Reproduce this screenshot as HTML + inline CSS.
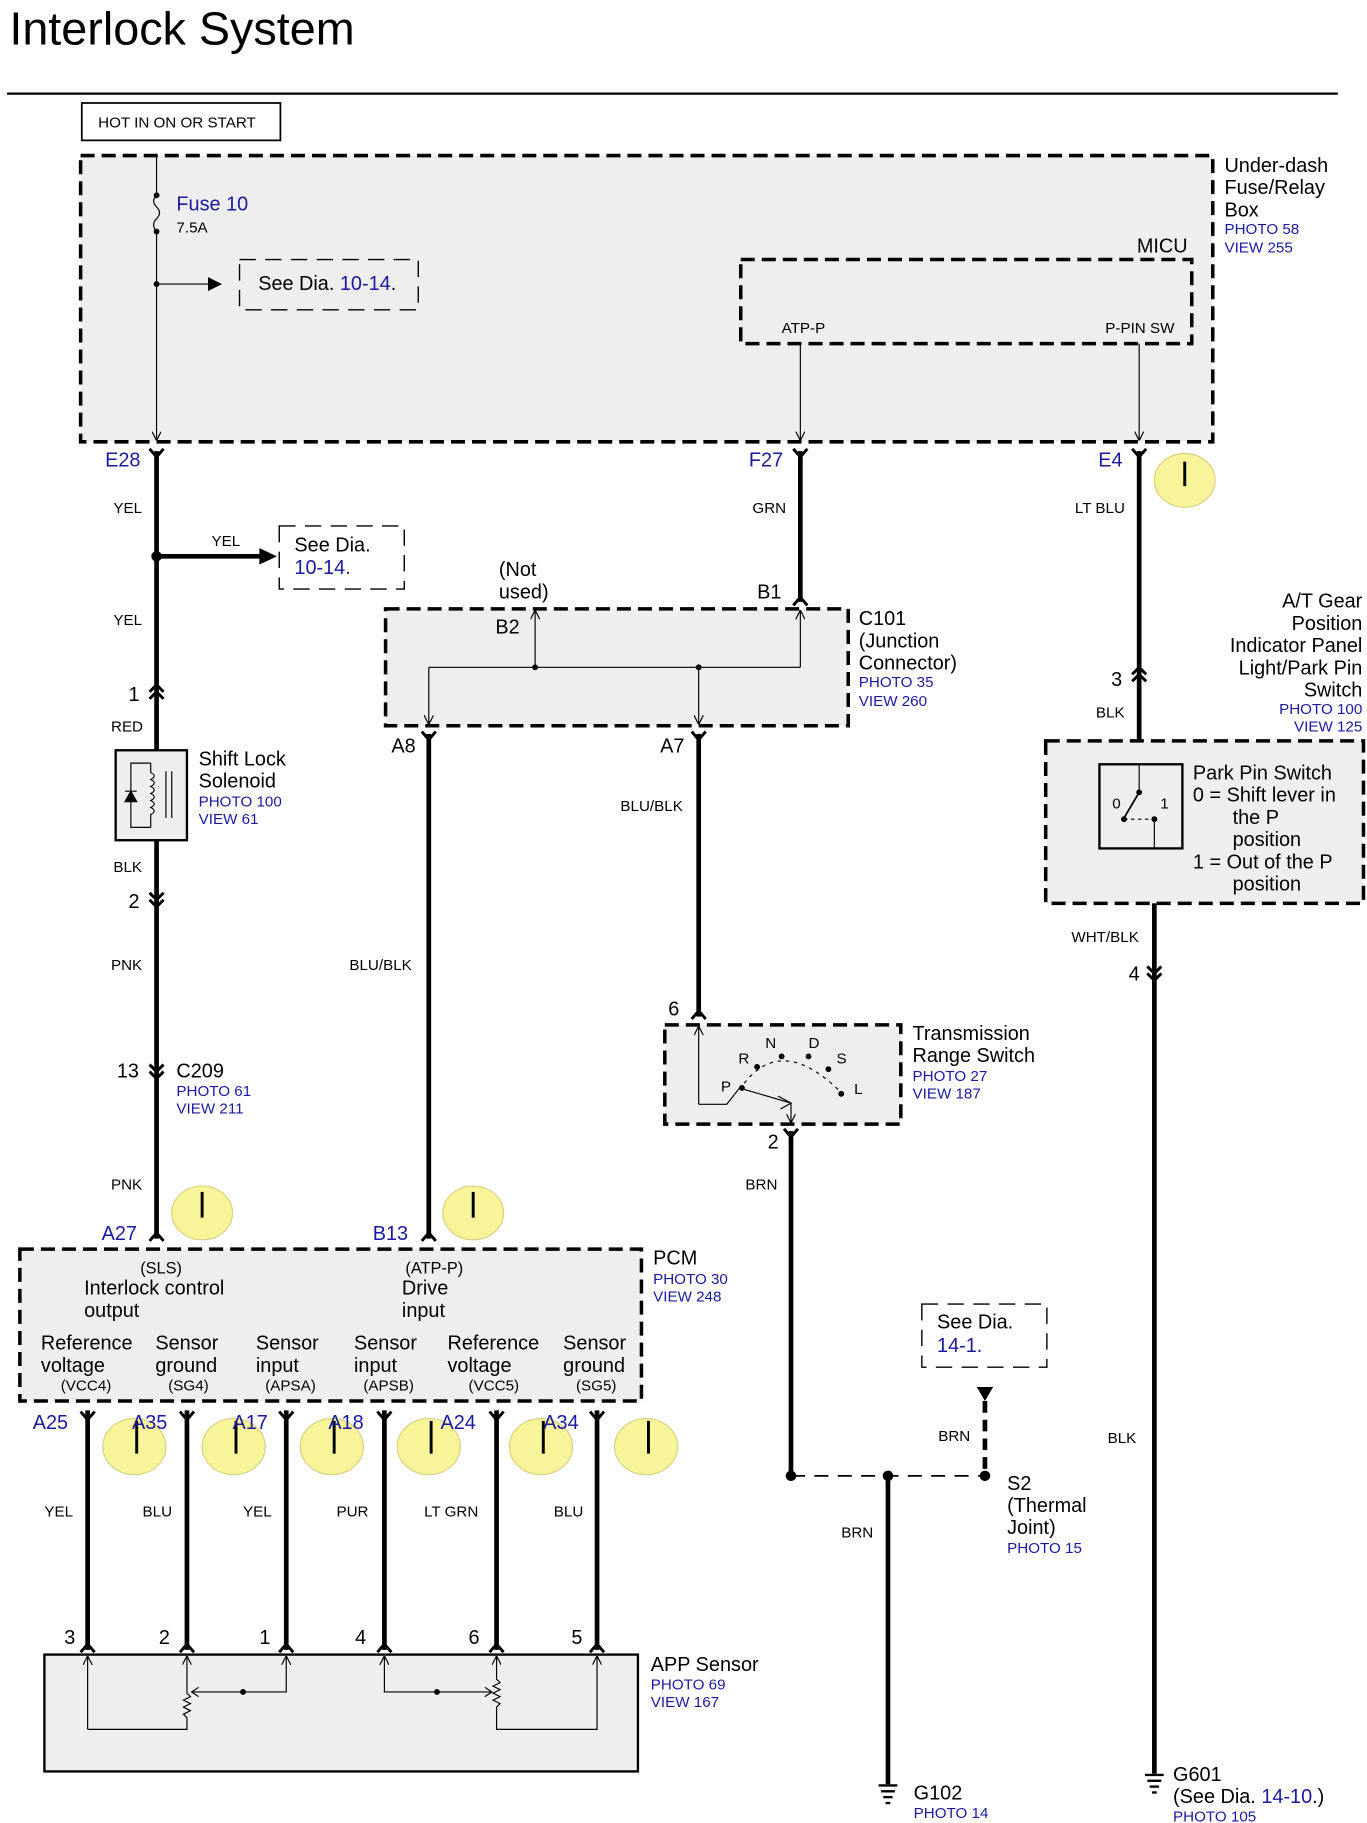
<!DOCTYPE html>
<html><head><meta charset="utf-8"><style>
html,body{margin:0;padding:0;background:#fff}
svg{display:block}
text{font-family:"Liberation Sans",Arial,sans-serif;fill:#000}
.b,.b text{fill:#1a1aa0}
.s13{font-size:13px}.s14{font-size:14px}.s17{font-size:17px}
</style></head><body>
<svg width="1367" height="1823" viewBox="0 0 1170 1560" xmlns="http://www.w3.org/2000/svg">
<defs>
<marker id="ar" markerWidth="8" markerHeight="8" refX="7" refY="4" orient="auto" markerUnits="userSpaceOnUse"><path d="M0,0 L8,4 L0,8" fill="none" stroke="#000" stroke-width="1"/></marker>
<marker id="af" markerWidth="12" markerHeight="12" refX="10" refY="6" orient="auto" markerUnits="userSpaceOnUse"><path d="M0,0 L12,6 L0,12 z" fill="#000"/></marker>
</defs>
<text x="8" y="38" style="font-size:40px">Interlock System</text>
<line x1="6" y1="80" x2="1145" y2="80" stroke="#000" stroke-width="2"/>
<rect x="70" y="88" width="170" height="32" fill="#fff" stroke="#000" stroke-width="1.5"/>
<text x="84" y="109" class="s13">HOT IN ON OR START</text>

<!-- Under-dash box -->
<rect x="69" y="133" width="969" height="245" fill="#eee" stroke="#000" stroke-width="3" stroke-dasharray="12,6"/>
<line x1="134" y1="133" x2="134" y2="165" stroke="#000" stroke-width="1"/>
<path d="M134,167 q-5,5 0,10 q5,5 0,10 q-5,5 0,11" fill="none" stroke="#000"/>
<circle cx="134" cy="167" r="2.5"/><circle cx="134" cy="198" r="2.5"/>
<line x1="134" y1="198" x2="134" y2="376" stroke="#000" stroke-width="1" marker-end="url(#ar)"/>
<text x="151" y="180" class="s17 b">Fuse 10</text>
<text x="151" y="199" class="s13">7.5A</text>
<circle cx="134" cy="243" r="2.5"/>
<line x1="134" y1="243" x2="188" y2="243" stroke="#000" marker-end="url(#af)"/>
<rect x="205" y="222" width="153" height="43" fill="none" stroke="#000" stroke-width="1.2" stroke-dasharray="14,8"/>
<text x="221" y="248" class="s17">See Dia. <tspan class="b">10-14</tspan>.</text>
<text x="973" y="216" class="s17">MICU</text>
<rect x="634" y="222" width="386" height="72" fill="none" stroke="#000" stroke-width="3" stroke-dasharray="12,6"/>
<text x="669" y="285" class="s13">ATP-P</text>
<text x="946" y="285" class="s13">P-PIN SW</text>
<line x1="685" y1="294" x2="685" y2="376" stroke="#000" marker-end="url(#ar)"/>
<line x1="975" y1="294" x2="975" y2="376" stroke="#000" marker-end="url(#ar)"/>
<text x="1048" y="147" class="s17">Under-dash</text>
<text x="1048" y="166" class="s17">Fuse/Relay</text>
<text x="1048" y="185" class="s17">Box</text>
<text x="1048" y="200" class="s13 b">PHOTO 58</text>
<text x="1048" y="216" class="s13 b">VIEW 255</text>

<g fill="none" stroke="#000" stroke-width="4">
<line x1="134" y1="386" x2="134" y2="1060"/>
<line x1="685" y1="386" x2="685" y2="515"/>
<line x1="975" y1="386" x2="975" y2="654"/>
<line x1="988" y1="700" x2="988" y2="1518"/>
<line x1="367" y1="628" x2="367" y2="1060"/>
<line x1="598" y1="628" x2="598" y2="870"/>
<line x1="677" y1="968" x2="677" y2="1263"/>
<line x1="760" y1="1263" x2="760" y2="1527"/>
<line x1="75" y1="1207" x2="75" y2="1412"/>
<line x1="160" y1="1207" x2="160" y2="1412"/>
<line x1="245" y1="1207" x2="245" y2="1412"/>
<line x1="329" y1="1207" x2="329" y2="1412"/>
<line x1="425" y1="1207" x2="425" y2="1412"/>
<line x1="511" y1="1207" x2="511" y2="1412"/>
</g>
<g fill="none" stroke="#000" stroke-width="2.5">
<path d="M128,384 L134,391 L140,384"/><path d="M679,384 L685,391 L691,384"/><path d="M969,384 L975,391 L981,384"/>
<path d="M361,626 L367,633 L373,626"/><path d="M592,626 L598,633 L604,626"/><path d="M671,966 L677,973 L683,966"/>
<path d="M69,1208 L75,1215 L81,1208"/><path d="M154,1208 L160,1215 L166,1208"/><path d="M239,1208 L245,1215 L251,1208"/>
<path d="M323,1208 L329,1215 L335,1208"/><path d="M419,1208 L425,1215 L431,1208"/><path d="M505,1208 L511,1215 L517,1208"/>
<path d="M128,1062 L134,1055 L140,1062"/><path d="M361,1062 L367,1055 L373,1062"/>
<path d="M679,518 L685,511 L691,518"/><path d="M592,872 L598,865 L604,872"/>
<path d="M69,1414 L75,1407 L81,1414"/><path d="M154,1414 L160,1407 L166,1414"/><path d="M239,1414 L245,1407 L251,1414"/>
<path d="M323,1414 L329,1407 L335,1414"/><path d="M419,1414 L425,1407 L431,1414"/><path d="M505,1414 L511,1407 L517,1414"/>
<path d="M128,592 L134,586 L140,592 M128,598 L134,592 L140,598"/>
<path d="M128,764 L134,770 L140,764 M128,770 L134,776 L140,770"/>
<path d="M128,911 L134,917 L140,911 M128,917 L134,923 L140,917"/>
<path d="M969,577 L975,571 L981,577 M969,583 L975,577 L981,583"/>
<path d="M982,827 L988,833 L994,827 M982,833 L988,839 L994,833"/>
</g>
<text x="90" y="399" class="s17 b">E28</text>
<text x="641" y="399" class="s17 b">F27</text>
<text x="940" y="399" class="s17 b">E4</text>
<g fill="#f8f49a" stroke="#d8d080" stroke-width="1">
<ellipse cx="1014" cy="411" rx="26" ry="23"/>
<ellipse cx="173" cy="1038" rx="26" ry="23"/><ellipse cx="405" cy="1038" rx="26" ry="23"/>
<ellipse cx="115" cy="1238" rx="27" ry="24"/><ellipse cx="200" cy="1238" rx="27" ry="24"/><ellipse cx="284" cy="1238" rx="27" ry="24"/>
<ellipse cx="367" cy="1238" rx="27" ry="24"/><ellipse cx="463" cy="1238" rx="27" ry="24"/><ellipse cx="553" cy="1238" rx="27" ry="24"/>
</g>
<g stroke="#000" stroke-width="2.5">
<line x1="1014" y1="395" x2="1014" y2="416"/><line x1="173" y1="1020" x2="173" y2="1042"/><line x1="405" y1="1020" x2="405" y2="1042"/>
<line x1="117" y1="1216" x2="117" y2="1244"/><line x1="202" y1="1216" x2="202" y2="1244"/><line x1="286" y1="1216" x2="286" y2="1244"/>
<line x1="369" y1="1216" x2="369" y2="1244"/><line x1="465" y1="1216" x2="465" y2="1244"/><line x1="555" y1="1216" x2="555" y2="1244"/>
</g>

<text x="97" y="439" class="s13">YEL</text>
<circle cx="134" cy="476" r="4.5"/>
<line x1="134" y1="476" x2="225" y2="476" stroke="#000" stroke-width="4"/>
<path d="M222,469 L237,476 L222,483 z"/>
<text x="181" y="467" class="s13">YEL</text>
<rect x="239" y="450" width="107" height="54" fill="none" stroke="#000" stroke-width="1.2" stroke-dasharray="14,8"/>
<text x="252" y="472" class="s17">See Dia.</text>
<text x="252" y="491" class="s17 b">10-14.</text>
<text x="97" y="535" class="s13">YEL</text>
<text x="110" y="600" class="s17">1</text>
<text x="95" y="626" class="s13">RED</text>
<rect x="99" y="642" width="61" height="77" fill="#eee" stroke="#000" stroke-width="2"/>
<path d="M129,653 L112,653 L112,708 L129,708 M129,653 L129,661 q6,3 0,6 q6,3 0,6 q6,3 0,6 q6,3 0,6 q6,3 0,6 q6,3 0,6 L129,708" fill="none" stroke="#000"/>
<line x1="142" y1="660" x2="142" y2="700" stroke="#000"/><line x1="147" y1="660" x2="147" y2="700" stroke="#000"/>
<path d="M107,686 L117,686 L112,677 z M107,677 L117,677" stroke="#000" stroke-width="1"/>
<text x="170" y="655" class="s17">Shift Lock</text>
<text x="170" y="674" class="s17">Solenoid</text>
<text x="170" y="690" class="s13 b">PHOTO 100</text>
<text x="170" y="705" class="s13 b">VIEW 61</text>
<text x="97" y="746" class="s13">BLK</text>
<text x="110" y="777" class="s17">2</text>
<text x="95" y="830" class="s13">PNK</text>
<text x="100" y="922" class="s17">13</text>
<text x="151" y="922" class="s17">C209</text>
<text x="151" y="938" class="s13 b">PHOTO 61</text>
<text x="151" y="953" class="s13 b">VIEW 211</text>
<text x="95" y="1018" class="s13">PNK</text>
<text x="87" y="1061" class="s17 b">A27</text>
<text x="319" y="1061" class="s17 b">B13</text>
<text x="299" y="830" class="s13">BLU/BLK</text>

<rect x="330" y="521" width="396" height="100" fill="#eee" stroke="#000" stroke-width="3" stroke-dasharray="12,6"/>
<g fill="none" stroke="#000" stroke-width="1">
<line x1="685" y1="571" x2="685" y2="523" marker-end="url(#ar)"/>
<line x1="367" y1="571" x2="685" y2="571"/>
<line x1="458" y1="571" x2="458" y2="523" marker-end="url(#ar)"/>
<line x1="367" y1="571" x2="367" y2="619" marker-end="url(#ar)"/>
<line x1="598" y1="571" x2="598" y2="619" marker-end="url(#ar)"/>
</g>
<circle cx="458" cy="571" r="2.5"/><circle cx="598" cy="571" r="2.5"/>
<text x="427" y="493" class="s17">(Not</text>
<text x="427" y="512" class="s17">used)</text>
<text x="424" y="542" class="s17">B2</text>
<text x="648" y="512" class="s17">B1</text>
<text x="735" y="535" class="s17">C101</text>
<text x="735" y="554" class="s17">(Junction</text>
<text x="735" y="573" class="s17">Connector)</text>
<text x="735" y="588" class="s13 b">PHOTO 35</text>
<text x="735" y="604" class="s13 b">VIEW 260</text>
<text x="335" y="644" class="s17">A8</text>
<text x="565" y="644" class="s17">A7</text>
<text x="644" y="439" class="s13">GRN</text>
<text x="531" y="694" class="s13">BLU/BLK</text>
<text x="572" y="869" class="s17">6</text>

<rect x="569" y="877" width="202" height="85" fill="#eee" stroke="#000" stroke-width="3" stroke-dasharray="12,6"/>
<g fill="none" stroke="#000" stroke-width="1">
<line x1="598" y1="945" x2="598" y2="879" marker-end="url(#ar)"/>
<path d="M598,945 L622,945 L633,931"/>
<path d="M636,932 L677,944 L677,960" marker-end="url(#ar)"/>
<path d="M666,938 L677,944 L668,949"/>
</g>
<g><circle cx="635" cy="931" r="2.5"/><circle cx="648" cy="913" r="2.5"/><circle cx="669" cy="904" r="2.5"/><circle cx="692" cy="904" r="2.5"/><circle cx="709" cy="915" r="2.5"/><circle cx="720" cy="936" r="2.5"/></g>
<path d="M637,927 Q670,885 720,935" fill="none" stroke="#000" stroke-dasharray="3,4"/>
<text x="617" y="934" class="s13">P</text><text x="632" y="910" class="s13">R</text><text x="655" y="897" class="s13">N</text>
<text x="692" y="897" class="s13">D</text><text x="716" y="910" class="s13">S</text><text x="731" y="936" class="s13">L</text>
<text x="781" y="890" class="s17">Transmission</text>
<text x="781" y="909" class="s17">Range Switch</text>
<text x="781" y="925" class="s13 b">PHOTO 27</text>
<text x="781" y="940" class="s13 b">VIEW 187</text>
<text x="657" y="983" class="s17">2</text>
<text x="638" y="1018" class="s13">BRN</text>

<rect x="789" y="1116" width="107" height="54" fill="none" stroke="#000" stroke-width="1.2" stroke-dasharray="14,8"/>
<text x="802" y="1137" class="s17">See Dia.</text>
<text x="802" y="1157" class="s17 b">14-1.</text>
<path d="M836,1187 L850,1187 L843,1199 z"/>
<line x1="843" y1="1199" x2="843" y2="1263" stroke="#000" stroke-width="4" stroke-dasharray="10,6"/>
<line x1="677" y1="1263" x2="843" y2="1263" stroke="#000" stroke-width="1.5" stroke-dasharray="12,8"/>
<circle cx="677" cy="1263" r="4.5"/><circle cx="760" cy="1263" r="4.5"/><circle cx="843" cy="1263" r="4.5"/>
<text x="803" y="1233" class="s13">BRN</text>
<text x="720" y="1316" class="s13">BRN</text>
<text x="862" y="1275" class="s17">S2</text>
<text x="862" y="1294" class="s17">(Thermal</text>
<text x="862" y="1313" class="s17">Joint)</text>
<text x="862" y="1329" class="s13 b">PHOTO 15</text>
<g stroke="#000" stroke-width="2"><line x1="752" y1="1528" x2="768" y2="1528"/><line x1="754" y1="1533" x2="766" y2="1533"/><line x1="756" y1="1538" x2="764" y2="1538"/><line x1="758" y1="1543" x2="762" y2="1543"/></g>
<text x="782" y="1540" class="s17">G102</text>
<text x="782" y="1556" class="s13 b">PHOTO 14</text>

<text x="920" y="439" class="s13">LT BLU</text>
<g class="s17" text-anchor="end">
<text x="1166" y="520">A/T Gear</text><text x="1166" y="539">Position</text><text x="1166" y="558">Indicator Panel</text>
<text x="1166" y="577">Light/Park Pin</text><text x="1166" y="596">Switch</text>
</g>
<text x="1166" y="611" class="s13 b" text-anchor="end">PHOTO 100</text>
<text x="1166" y="626" class="s13 b" text-anchor="end">VIEW 125</text>
<text x="951" y="587" class="s17">3</text>
<text x="938" y="614" class="s13">BLK</text>
<rect x="895" y="634" width="272" height="139" fill="#eee" stroke="#000" stroke-width="3" stroke-dasharray="12,6"/>
<rect x="941" y="654" width="71" height="72" fill="#eee" stroke="#000" stroke-width="2"/>
<line x1="975" y1="654" x2="975" y2="678" stroke="#000"/>
<circle cx="975" cy="678" r="2.5"/>
<line x1="975" y1="678" x2="962" y2="700" stroke="#000" stroke-width="1.5"/>
<circle cx="962" cy="701" r="2.5"/><circle cx="988" cy="701" r="2.5"/>
<line x1="962" y1="701" x2="988" y2="701" stroke="#000" stroke-dasharray="3,3"/>
<line x1="988" y1="701" x2="988" y2="726" stroke="#000"/>
<text x="952" y="692" class="s13">0</text><text x="993" y="692" class="s13">1</text>
<text x="1021" y="667" class="s17">Park Pin Switch</text>
<text x="1021" y="686" class="s17">0 =  Shift lever in</text>
<text x="1055" y="705" class="s17">the P</text>
<text x="1055" y="724" class="s17">position</text>
<text x="1021" y="743" class="s17">1 =  Out of the P</text>
<text x="1055" y="762" class="s17">position</text>
<text x="917" y="806" class="s13">WHT/BLK</text>
<text x="966" y="839" class="s17">4</text>
<text x="948" y="1235" class="s13">BLK</text>
<g stroke="#000" stroke-width="2"><line x1="980" y1="1519" x2="996" y2="1519"/><line x1="982" y1="1524" x2="994" y2="1524"/><line x1="984" y1="1529" x2="992" y2="1529"/><line x1="986" y1="1534" x2="990" y2="1534"/></g>
<text x="1004" y="1524" class="s17">G601</text>
<text x="1004" y="1543" class="s17">(See Dia. <tspan class="b">14-10</tspan>.)</text>
<text x="1004" y="1559" class="s13 b">PHOTO 105</text>

<rect x="17" y="1069" width="532" height="130" fill="#eee" stroke="#000" stroke-width="3" stroke-dasharray="12,6"/>
<text x="120" y="1090" class="s14">(SLS)</text>
<text x="72" y="1108" class="s17">Interlock control</text>
<text x="72" y="1127" class="s17">output</text>
<text x="347" y="1090" class="s14">(ATP-P)</text>
<text x="344" y="1108" class="s17">Drive</text>
<text x="344" y="1127" class="s17">input</text>
<g class="s17">
<text x="35" y="1155">Reference</text><text x="35" y="1174">voltage</text>
<text x="133" y="1155">Sensor</text><text x="133" y="1174">ground</text>
<text x="219" y="1155">Sensor</text><text x="219" y="1174">input</text>
<text x="303" y="1155">Sensor</text><text x="303" y="1174">input</text>
<text x="383" y="1155">Reference</text><text x="383" y="1174">voltage</text>
<text x="482" y="1155">Sensor</text><text x="482" y="1174">ground</text>
</g>
<g class="s13">
<text x="52" y="1190">(VCC4)</text><text x="144" y="1190">(SG4)</text><text x="227" y="1190">(APSA)</text>
<text x="311" y="1190">(APSB)</text><text x="401" y="1190">(VCC5)</text><text x="493" y="1190">(SG5)</text>
</g>
<text x="559" y="1082" class="s17">PCM</text>
<text x="559" y="1099" class="s13 b">PHOTO 30</text>
<text x="559" y="1114" class="s13 b">VIEW 248</text>
<g class="s17 b">
<text x="28" y="1223">A25</text><text x="113" y="1223">A35</text><text x="199" y="1223">A17</text>
<text x="281" y="1223">A18</text><text x="377" y="1223">A24</text><text x="465" y="1223">A34</text>
</g>
<g class="s13">
<text x="38" y="1298">YEL</text><text x="122" y="1298">BLU</text><text x="208" y="1298">YEL</text>
<text x="288" y="1298">PUR</text><text x="363" y="1298">LT GRN</text><text x="474" y="1298">BLU</text>
</g>
<g class="s17">
<text x="55" y="1407">3</text><text x="136" y="1407">2</text><text x="222" y="1407">1</text>
<text x="304" y="1407">4</text><text x="401" y="1407">6</text><text x="489" y="1407">5</text>
</g>

<rect x="38" y="1416" width="508" height="100" fill="#eee" stroke="#000" stroke-width="2"/>
<g fill="none" stroke="#000" stroke-width="1">
<line x1="75" y1="1480" x2="75" y2="1418" marker-end="url(#ar)"/>
<path d="M75,1480 L160,1480 L160,1470 l-3,-3 l6,-3 l-6,-3 l6,-3 l-6,-3 l6,-3 l-3,-3 L160,1418"/>
<path d="M245,1418 L245,1448 L164,1448"/><path d="M170,1444 L164,1448 L170,1452"/>
<line x1="245" y1="1420" x2="245" y2="1418" marker-end="url(#ar)"/>
<line x1="160" y1="1420" x2="160" y2="1418" marker-end="url(#ar)"/>
<path d="M329,1418 L329,1448 L421,1448"/><path d="M415,1444 L421,1448 L415,1452"/>
<line x1="329" y1="1420" x2="329" y2="1418" marker-end="url(#ar)"/>
<path d="M425,1418 L425,1437 l3,3 l-6,3 l6,3 l-6,3 l6,3 l-6,3 l6,3 l-3,3 L425,1480 L511,1480 L511,1418"/>
<line x1="425" y1="1420" x2="425" y2="1418" marker-end="url(#ar)"/>
<line x1="511" y1="1420" x2="511" y2="1418" marker-end="url(#ar)"/>
</g>
<circle cx="208" cy="1448" r="2.5"/><circle cx="374" cy="1448" r="2.5"/>
<text x="557" y="1430" class="s17">APP Sensor</text>
<text x="557" y="1446" class="s13 b">PHOTO 69</text>
<text x="557" y="1461" class="s13 b">VIEW 167</text>
</svg>
</body></html>
